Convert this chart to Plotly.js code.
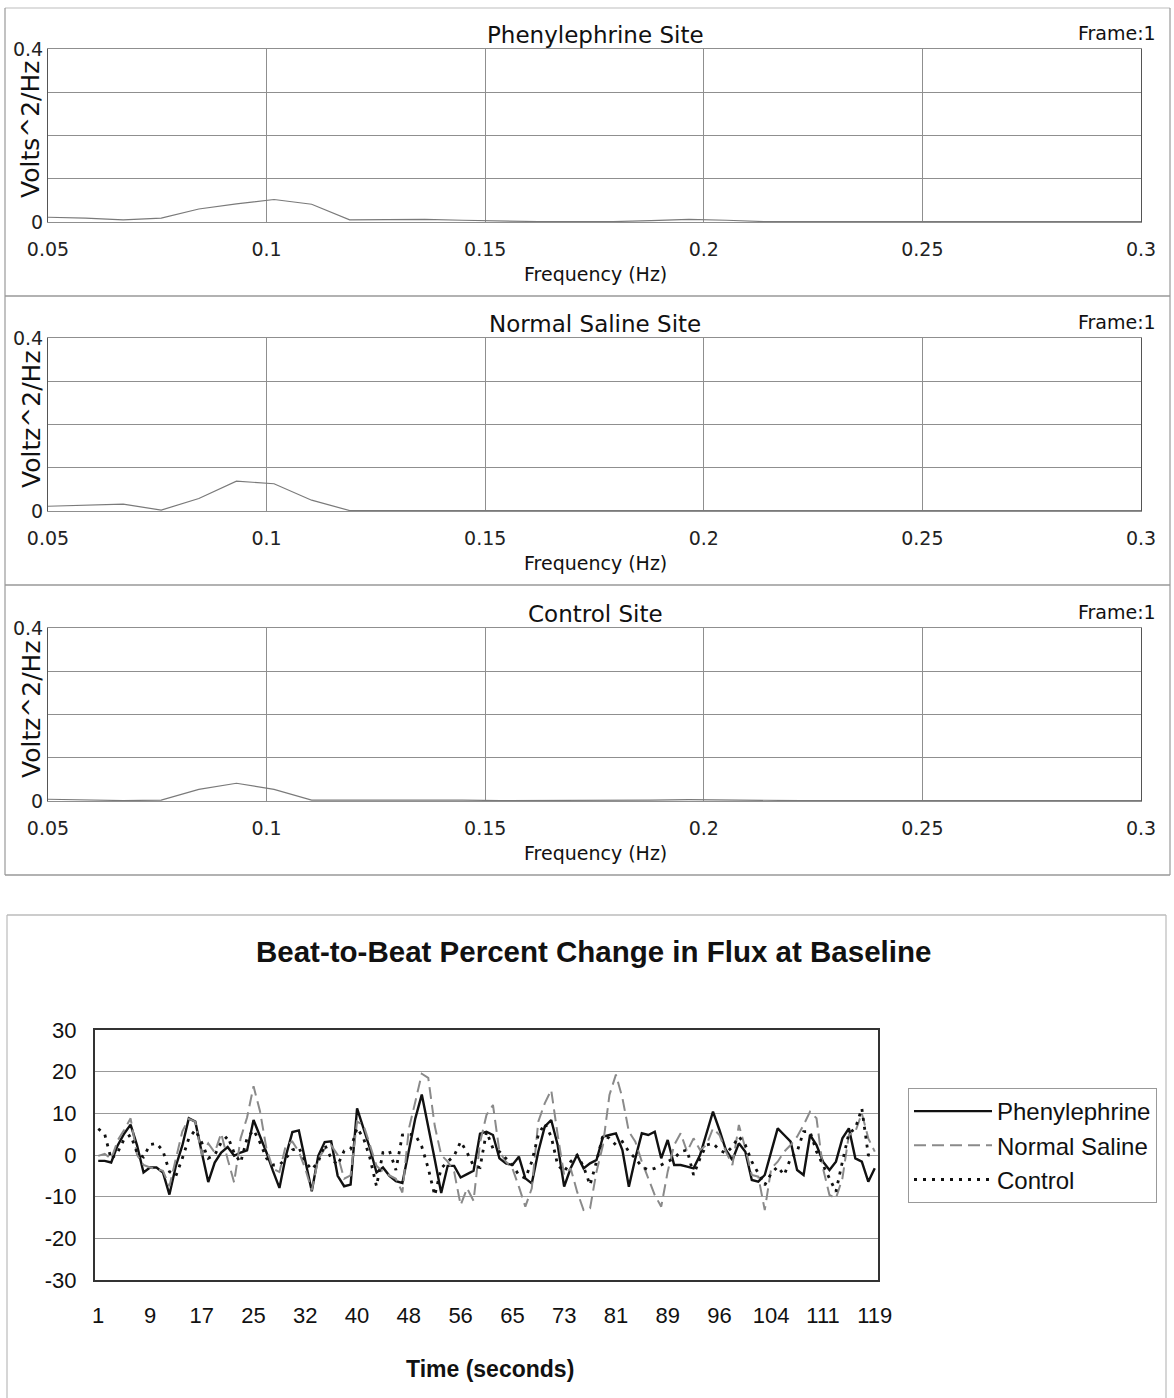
<!DOCTYPE html>
<html>
<head>
<meta charset="utf-8">
<script src="https://cdn.plot.ly/plotly-3.0.1.min.js"></script>
<style>
html,body{margin:0;padding:0;background:#fff;}
#chart{width:1174px;height:1398px;}
</style>
</head>
<body>
<div id="chart"></div>
<script>
// ---------- DATA ----------
const freqHz = [0.0500, 0.0586, 0.0672, 0.0759, 0.0845, 0.0931, 0.1017, 0.1103, 0.1190, 0.1276,
                0.1362, 0.1448, 0.1534, 0.1621, 0.1707, 0.1793, 0.1879, 0.1966, 0.2052, 0.2138,
                0.2224, 0.2310, 0.2397, 0.2483, 0.2569, 0.2655, 0.2741, 0.2828, 0.2914, 0.3000];

const psdPhenylephrine = [0.011, 0.009, 0.005, 0.009, 0.030, 0.042, 0.052, 0.041, 0.005, 0.005,
                          0.006, 0.004, 0.002, 0.001, 0.001, 0.001, 0.003, 0.006, 0.004, 0.001,
                          0.001, 0.001, 0.001, 0.001, 0.001, 0.001, 0.001, 0.001, 0.001, 0.001];
const psdSaline = [0.011, 0.013, 0.016, 0.002, 0.029, 0.069, 0.063, 0.025, 0.001, 0.001,
                   0.001, 0.001, 0.001, 0.001, 0.001, 0.001, 0.001, 0.001, 0.001, 0.001,
                   0.001, 0.001, 0.001, 0.001, 0.001, 0.001, 0.001, 0.001, 0.001, 0.001];
const psdControl = [0.004, 0.003, 0.001, 0.002, 0.027, 0.041, 0.027, 0.002, 0.002, 0.003,
                    0.003, 0.002, 0.001, 0.001, 0.001, 0.001, 0.002, 0.003, 0.002, 0.001,
                    0.001, 0.001, 0.001, 0.001, 0.001, 0.001, 0.001, 0.001, 0.001, 0.001];

const panelTitles = ["Phenylephrine Site", "Normal Saline Site", "Control Site"];
const panelYTitles = ["Volts^2/Hz", "Voltz^2/Hz", "Voltz^2/Hz"];
const freqTicks = [0.05, 0.1, 0.15, 0.2, 0.25, 0.3];
const freqTickText = ["0.05", "0.1", "0.15", "0.2", "0.25", "0.3"];

const timeLabels = ["1","9","17","25","32","40","48","56","65","73","81","89","96","104","111","119"];
const fluxTicks = [-30, -20, -10, 0, 10, 20, 30];
const fluxTickText = ["-30", "-20", "-10", "0", "10", "20", "30"];

const fluxPhenylephrine = [
  -1.4,-1.4,-1.8,2.3,5.1,7.3,2.3,-4.2,-3,-3,
  -4.2,-9.5,-2.6,2.3,8.8,8,0.6,-6.5,-1.8,0.6,
  1.9,-0.2,0.6,1.1,8.4,4.7,0.6,-3.8,-7.9,-0.2,
  5.5,5.9,-1,-8.7,-0.2,3.1,3.3,-5,-7.5,-7.1,
  11.2,6.3,1.5,-4.2,-3,-5,-6.3,-6.7,1.5,8.8,
  14.5,6.3,-1,-9.1,-2.6,-2.6,-5.4,-4.6,-3.8,5.1,
  5.6,4.8,-0.8,-2,-2.4,-0.4,-5.6,-6.8,0.8,6.8,
  8.4,2.4,-7.6,-3.2,0,-3.2,-2,-1.2,4.4,4.8,
  5.2,1.2,-7.6,-0.8,5.2,4.8,5.6,-0.8,3.6,-2.4,
  -2.4,-2.8,-3.2,0,5.2,10.4,6,1.2,-1.2,2.8,
  0.8,-6,-6.4,-4.8,0.8,6.4,4.8,3.2,-3.6,-4.8,
  4.8,2.4,-1.6,-3.6,-1.6,4,6.4,-0.8,-1.6,-6.4,
  -3.2];
const fluxSaline = [
  -0.2,0.3,-1,3.5,6,8.8,0,-2.4,-3,-3.4,
  -3.8,-7.5,-1,5.7,8.7,8,0,2.8,0.6,5.2,
  -1,-6.6,4,9,16.5,10.5,1.5,-3.3,-4.1,2.4,
  3.2,0.8,-3.3,-8.5,-1,1.5,2.3,0,-5.7,-4.9,
  8,7.2,2.3,-2.6,-4.1,-4.9,-5.7,-9,6.3,12.8,
  19.5,18.5,7,0,-1.6,-4,-12,-8,-11,3,
  9.6,12,0.8,-1.6,-3.2,-7.6,-12.4,-8,8,12.4,
  15.6,4.8,-4.8,-3.2,-8.8,-13.2,-12.8,-4,2.4,14.4,
  19.3,13.7,5.6,3.2,-1.6,-5.6,-9.6,-12.4,-4,2.4,
  5.2,0.8,4,1.2,2.4,6.4,4.8,0.8,-2.4,7.2,
  1.6,-4.8,-5.2,-13.2,-3.2,-1.6,0.8,2.4,4.4,7.2,
  10.4,8.8,-3.2,-9.6,-10.4,-5.6,4.8,5.6,10,4,
  0.8];
const fluxControl = [
  6.3,5,-1,0.6,3.8,4.8,0.5,-0.5,2.5,2.8,
  1,-4,-5,-0.8,4,6,3,-0.8,0,3,
  4.5,0.5,-1.8,4,6,3,-0.8,-2.4,-2.4,-0.8,
  1.2,1.8,-1.6,-3.5,-1.6,2.5,-0.8,-2.4,1,1.4,
  6.5,4,-0.8,-7.5,0.6,1,-3.6,4.8,5,4.8,
  2,-3.2,-9.7,-3.2,-1.6,-0.2,3.2,0.6,-2.6,-3,
  5.6,1.6,0.8,-0.8,-2.4,-4.8,-5.6,-1.6,4.8,7.6,
  4.4,-2.4,-4,-1.6,0,-2.8,-7.2,-1.6,4.8,4,
  2.4,3.2,0.8,-0.8,-2.8,-3.6,-3.2,-2.4,-1.6,-0.8,
  0.8,1.2,-4.8,-0.8,2.4,2.8,1.2,0.4,2,4.4,
  2.4,-1.6,-4.4,-7.2,-4.4,-2.8,-4.8,-0.8,0.8,5.6,
  5.6,0.8,-2.4,-5.6,-8.8,-1.6,5.2,6.4,11.2,0,
  -0.4];

// ---------- LAYOUT HELPERS ----------
const W = 1174, H = 1398;
const px = v => v / W;
const py = v => 1 - v / H;

const TOPFONT = "DejaVu Sans, Verdana, sans-serif";
const BOTFONT = "Liberation Sans, Arial, sans-serif";

const psdSeries = [psdPhenylephrine, psdSaline, psdControl];
const panelOffsets = [0, 289, 579];

const traces = [];
const layout = {
  width: W, height: H,
  margin: {l: 0, r: 0, t: 0, b: 0},
  paper_bgcolor: "#fff",
  plot_bgcolor: "#fff",
  showlegend: true,
  annotations: [],
  shapes: []
};

psdSeries.forEach((ys, k) => {
  const n = k + 1;
  const off = panelOffsets[k];
  traces.push({
    x: freqHz, y: ys, type: "scatter", mode: "lines",
    xaxis: "x" + n, yaxis: "y" + n, showlegend: false,
    line: {color: "#7a7a7a", width: 1.2}, hoverinfo: "skip"
  });
  layout["xaxis" + n] = {
    domain: [px(48), px(1141)], anchor: "y" + n,
    range: [0.05, 0.3], tickvals: freqTicks, ticktext: freqTickText,
    showgrid: true, gridcolor: "#8f8f8f", gridwidth: 1,
    showline: true, linecolor: "#8f8f8f", linewidth: 1, mirror: true,
    zeroline: false, ticks: "", ticklabelstandoff: 10,
    tickfont: {family: TOPFONT, size: 19, color: "#222"}, fixedrange: true
  };
  layout["yaxis" + n] = {
    domain: [py(222 + off), py(49 + off)], anchor: "x" + n,
    range: [0, 0.4], tickvals: [0, 0.1, 0.2, 0.3, 0.4], ticktext: ["0", "", "", "", "0.4"],
    showgrid: true, gridcolor: "#8f8f8f", gridwidth: 1,
    showline: true, linecolor: "#555", linewidth: 1, mirror: true,
    zeroline: false, ticks: "", ticklabelstandoff: 0,
    tickfont: {family: TOPFONT, size: 19, color: "#222"}, fixedrange: true
  };
  layout.annotations.push(
    {text: panelTitles[k], xref: "paper", yref: "paper", x: px(595), y: py(35 + off),
     xanchor: "center", yanchor: "middle", showarrow: false,
     font: {family: TOPFONT, size: 23, color: "#111"}},
    {text: "Frame:1", xref: "paper", yref: "paper", x: px(1158), y: py(33 + off),
     xanchor: "right", yanchor: "middle", showarrow: false,
     font: {family: TOPFONT, size: 19, color: "#111"}},
    {text: "Frequency (Hz)", xref: "paper", yref: "paper", x: px(595), y: py(274 + off),
     xanchor: "center", yanchor: "middle", showarrow: false,
     font: {family: TOPFONT, size: 19, color: "#111"}},
    {text: panelYTitles[k], xref: "paper", yref: "paper", x: px(31), y: py(130 + off),
     xanchor: "center", yanchor: "middle", showarrow: false, textangle: -90,
     font: {family: TOPFONT, size: 25, color: "#111"}}
  );
});

// frame lines around the panels
const frameLine = (x0, y0, x1, y1, c) => ({type: "line", xref: "paper", yref: "paper",
  x0: px(x0), y0: py(y0), x1: px(x1), y1: py(y1), line: {color: c, width: 1.2}});
layout.shapes.push(
  frameLine(5, 8, 1170, 8, "#bdbdbd"),
  frameLine(5, 296, 1170, 296, "#666"),
  frameLine(5, 585, 1170, 585, "#666"),
  frameLine(5, 875, 1170, 875, "#666"),
  frameLine(5, 8, 5, 875, "#999"),
  frameLine(1170, 8, 1170, 875, "#999"),
  frameLine(7, 915, 1166, 915, "#999"),
  frameLine(7, 915, 7, 1398, "#bbb"),
  frameLine(1166, 915, 1166, 1398, "#bbb")
);

// ---------- BOTTOM CHART ----------
const idx = fluxPhenylephrine.map((_, i) => i);
const tickIdx = timeLabels.map((_, j) => j * 8);

traces.push(
  {x: idx, y: fluxPhenylephrine, name: "Phenylephrine", type: "scatter", mode: "lines",
   xaxis: "x4", yaxis: "y4", legendgroup: "a",
   line: {color: "#111", width: 2.4}},
  {x: idx, y: fluxSaline, name: "Normal Saline", type: "scatter", mode: "lines",
   xaxis: "x4", yaxis: "y4", legendgroup: "b",
   line: {color: "#8a8a8a", width: 2, dash: "12px,6px"}},
  {x: idx, y: fluxControl, name: "Control", type: "scatter", mode: "lines",
   xaxis: "x4", yaxis: "y4", legendgroup: "c",
   line: {color: "#111", width: 2.8, dash: "3px,6px"}}
);

layout.xaxis4 = {
  domain: [px(95), px(878)], anchor: "y4",
  range: [-0.5, 120.5], tickvals: tickIdx, ticktext: timeLabels,
  showgrid: false, showline: true, linecolor: "#333", linewidth: 2, mirror: true,
  zeroline: false, ticks: "", ticklabelstandoff: 15,
  tickfont: {family: BOTFONT, size: 22, color: "#111"}, fixedrange: true
};
layout.yaxis4 = {
  domain: [py(1280), py(1030)], anchor: "x4",
  range: [-30, 30], tickvals: fluxTicks, ticktext: fluxTickText,
  showgrid: true, gridcolor: "#999", gridwidth: 1,
  showline: true, linecolor: "#333", linewidth: 2, mirror: true,
  zeroline: false, ticks: "", ticklabelstandoff: 12,
  tickfont: {family: BOTFONT, size: 22, color: "#111"}, fixedrange: true
};
layout.annotations.push(
  {text: "<b>Beat-to-Beat Percent Change in Flux at Baseline</b>", xref: "paper", yref: "paper",
   x: px(594), y: py(951), xanchor: "center", yanchor: "middle", showarrow: false,
   font: {family: BOTFONT, size: 29.5, color: "#111"}},
  {text: "<b>Time (seconds)</b>", xref: "paper", yref: "paper",
   x: px(490), y: py(1369), xanchor: "center", yanchor: "middle", showarrow: false,
   font: {family: BOTFONT, size: 23, color: "#111"}}
);
layout.legend = {
  x: px(908), y: py(1088), xanchor: "left", yanchor: "top",
  bgcolor: "#fff", bordercolor: "#999", borderwidth: 1,
  font: {family: BOTFONT, size: 24, color: "#111"},
  itemwidth: 78, tracegroupgap: 9, traceorder: "normal"
};

Plotly.newPlot("chart", traces, layout, {displayModeBar: false, staticPlot: true});
</script>
</body>
</html>
